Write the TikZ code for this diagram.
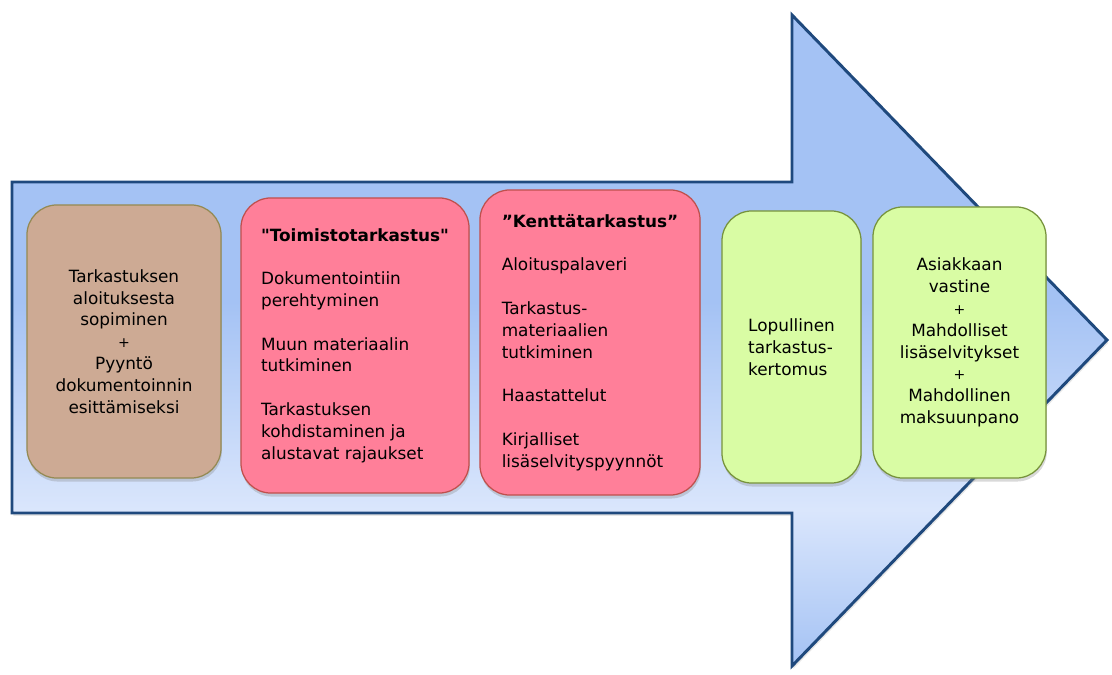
\documentclass[tikz,border=0pt]{standalone}
\usepackage{fontspec}
\setmainfont{DejaVu Sans}[Ligatures=TeXOff]
\usetikzlibrary{shadows}

\definecolor{arrowblue}{HTML}{A4C2F4}
\definecolor{arrowlight}{HTML}{DAE6FC}
\definecolor{arrowline}{HTML}{1F497D}
\definecolor{brownfill}{HTML}{CDAA94}
\definecolor{brownline}{HTML}{948A54}
\definecolor{pinkfill}{HTML}{FF7F99}
\definecolor{pinkline}{HTML}{C0504D}
\definecolor{greenfill}{HTML}{D9FCA4}
\definecolor{greenline}{HTML}{77933C}

\pgfdeclareverticalshading{arrowshade}{100bp}{color(0bp)=(arrowblue); color(25bp)=(arrowblue); color(37bp)=(arrowlight); color(53bp)=(arrowblue); color(100bp)=(arrowblue)}

\newcommand{\plus}{{\fontsize{10}{15.5}\selectfont +}}

\begin{document}
\begin{tikzpicture}[
    x=0.025cm, y=-0.025cm,
    phase/.style={draw, line width=0.9pt, rounded corners=0.75cm, inner sep=0pt,
        font=\fontsize{12}{15.5}\selectfont,
        drop shadow={opacity=0.3, shadow xshift=0.6pt, shadow yshift=-2.5pt}},
    startbox/.style={phase, fill=brownfill, draw=brownline, align=center},
    workbox/.style={phase, fill=pinkfill, draw=pinkline, align=left},
    endbox/.style={phase, fill=greenfill, draw=greenline}
]
\useasboundingbox (0,0) rectangle (1112,675);

% Big arrow
\draw[line width=2.1pt, draw=arrowline, shading=arrowshade, line join=miter,
      drop shadow={opacity=0.2, shadow xshift=1pt, shadow yshift=-2pt}]
    (12,182) -- (792,182) -- (792,15) -- (1107,340) -- (792,666) -- (792,513) -- (12,513) -- cycle;

% Phases
\node[startbox, minimum width=4.85cm, minimum height=6.825cm] (start) at (124,341.5)
    {Tarkastuksen\\aloituksesta\\sopiminen\\\plus\\Pyyntö\\dokumentoinnin\\esittämiseksi};

\node[workbox, minimum width=5.7cm, minimum height=7.375cm] (office) at (355,345.5)
    {\textbf{"Toimistotarkastus"}\\[15.5pt]
     Dokumentointiin\\perehtyminen\\[15.5pt]
     Muun materiaalin\\tutkiminen\\[15.5pt]
     Tarkastuksen\\kohdistaminen ja\\alustavat rajaukset};

\node[workbox, minimum width=5.5cm, minimum height=7.625cm] (field) at (590,342.5)
    {\textbf{”Kenttätarkastus”}\\[15.5pt]
     Aloituspalaveri\\[15.5pt]
     Tarkastus-\\materiaalien\\tutkiminen\\[15.5pt]
     Haastattelut\\[15.5pt]
     Kirjalliset\\lisäselvityspyynnöt};

\node[endbox, align=left, minimum width=3.475cm, minimum height=6.8cm] (report) at (791.5,347)
    {Lopullinen\\tarkastus-\\kertomus};

\node[endbox, align=center, minimum width=4.325cm, minimum height=6.775cm] (reply) at (959.5,342.5)
    {Asiakkaan\\vastine\\\plus\\Mahdolliset\\lisäselvitykset\\\plus\\Mahdollinen\\maksuunpano};

\end{tikzpicture}
\end{document}
